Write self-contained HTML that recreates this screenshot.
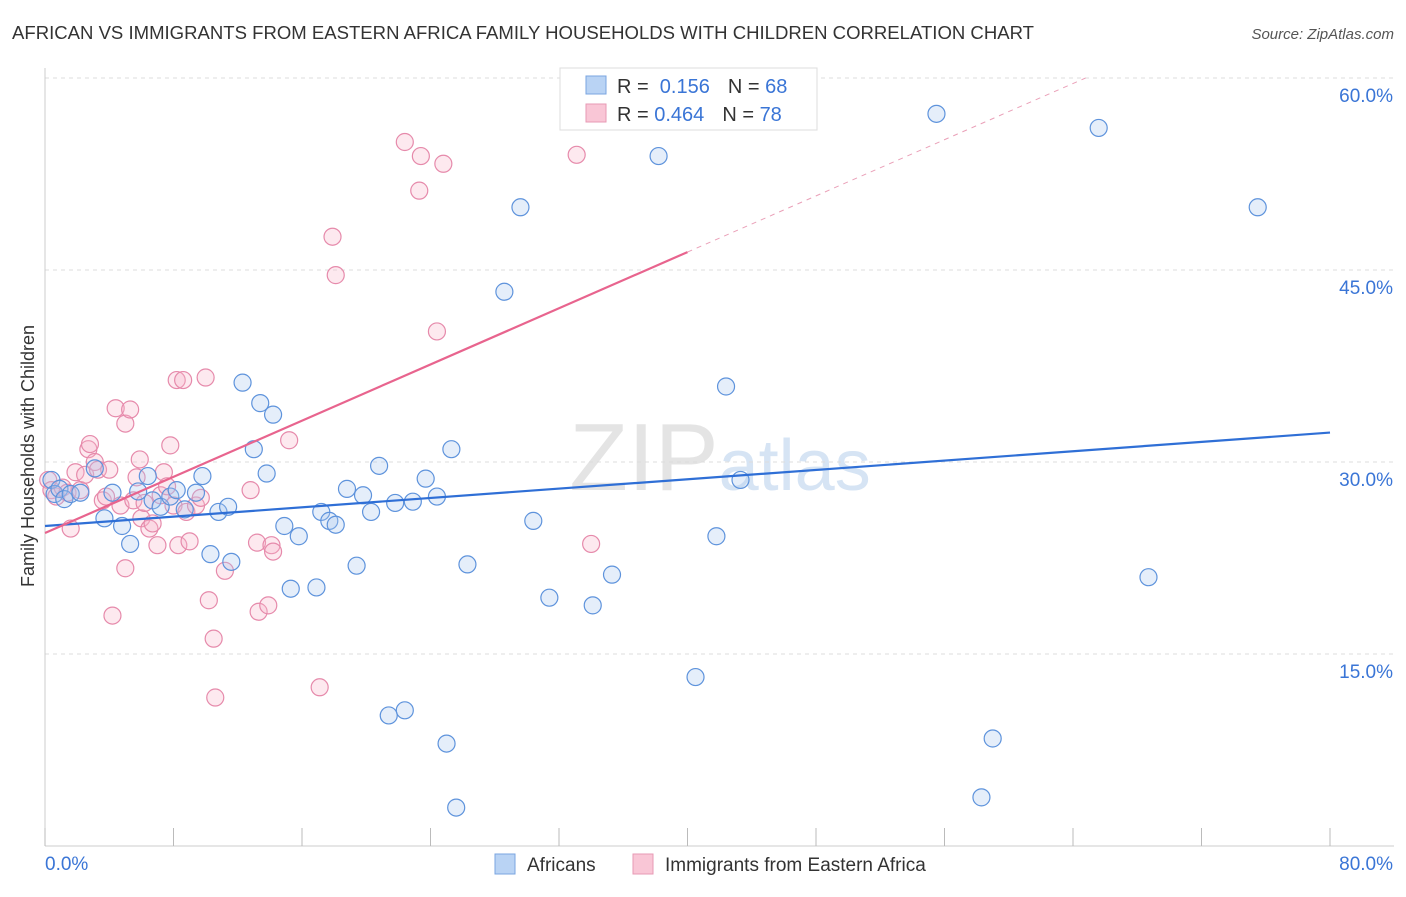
<!DOCTYPE html>
<html><head><meta charset="utf-8">
<style>
body{margin:0;background:#fff;font-family:"Liberation Sans",sans-serif;}
svg text{font-family:"Liberation Sans",sans-serif;}
</style></head>
<body>
<svg id="chart" width="1406" height="892" xmlns="http://www.w3.org/2000/svg">
<text x="12" y="39" font-size="18" fill="#333" textLength="1022" lengthAdjust="spacingAndGlyphs">AFRICAN VS IMMIGRANTS FROM EASTERN AFRICA FAMILY HOUSEHOLDS WITH CHILDREN CORRELATION CHART</text>
<text x="1394" y="39" font-size="15" fill="#555" text-anchor="end" font-style="italic">Source: ZipAtlas.com</text>
<text x="720" y="490" font-size="96" fill="#e4e4e4" text-anchor="middle" font-family="Liberation Serif">ZIP<tspan fill="#d6e4f4" font-family="Liberation Sans" font-size="72">atlas</tspan></text>
<g id="grid"></g>
<g id="axes"></g>
<g id="marks"></g>
<text transform="translate(34,456) rotate(-90)" font-size="18" fill="#333" text-anchor="middle">Family Households with Children</text>
<g>
<rect x="560" y="68" width="257" height="62" fill="#fff" stroke="#ddd"/>
<rect x="586" y="76" width="20" height="18" fill="#b9d3f4" stroke="#7aa5e0"/>
<rect x="586" y="104" width="20" height="18" fill="#f9c6d6" stroke="#e79ab4"/>
<text x="617" y="93" font-size="20" fill="#333">R = <tspan fill="#3a75d6">&#160;0.156</tspan><tspan dx="18">N = </tspan><tspan fill="#3a75d6">68</tspan></text>
<text x="617" y="121" font-size="20" fill="#333">R = <tspan fill="#3a75d6">0.464</tspan><tspan dx="18">N = </tspan><tspan fill="#3a75d6">78</tspan></text>
</g>
<g>
<rect x="495" y="854" width="20" height="20" fill="#b9d3f4" stroke="#7aa5e0"/>
<text x="527" y="871" font-size="19" fill="#333">Africans</text>
<rect x="633" y="854" width="20" height="20" fill="#f9c6d6" stroke="#e79ab4"/>
<text x="665" y="871" font-size="19" fill="#333">Immigrants from Eastern Africa</text>
</g>
</svg>
<script>
const xTicks=[0,8,16,24,32,40,48,56,64,72,80];
const yTicks=[15,30,45,60];
const blueX=[0.4,0.6,0.9,1.2,1.6,2.2,3.1,3.7,4.2,4.8,5.3,5.8,6.4,6.7,7.2,7.8,8.2,8.7,9.4,9.8,10.3,10.8,11.4,11.6,12.3,13.0,13.4,13.8,14.2,14.9,15.3,15.8,16.9,17.2,17.7,18.1,18.8,19.4,19.8,20.3,20.8,21.4,21.8,22.4,22.9,23.7,24.4,25.0,25.3,25.6,26.3,28.6,29.6,30.4,31.4,34.1,35.3,38.2,40.5,41.8,42.4,43.3,55.5,58.3,59.0,65.6,68.7,75.5];
const blueY=[28.6,27.5,27.9,27.1,27.5,27.6,29.5,25.6,27.6,25.0,23.6,27.7,28.9,27.0,26.5,27.3,27.8,26.3,27.6,28.9,22.8,26.1,26.5,22.2,36.2,31.0,34.6,29.1,33.7,25.0,20.1,24.2,20.2,26.1,25.4,25.1,27.9,21.9,27.4,26.1,29.7,10.2,26.8,10.6,26.9,28.7,27.3,8.0,31.0,3.0,22.0,43.3,49.9,25.4,19.4,18.8,21.2,53.9,13.2,24.2,35.9,28.6,57.2,3.8,8.4,56.1,21.0,49.9];
const pinkX=[0.2,0.4,0.7,1.1,1.4,1.6,1.9,2.2,2.5,2.7,2.8,3.1,3.3,3.6,3.8,4.0,4.2,4.4,4.7,5.0,5.0,5.3,5.5,5.7,5.9,6.0,6.2,6.5,6.7,7.0,7.2,7.4,7.6,7.8,8.0,8.2,8.3,8.6,8.8,9.0,9.4,9.7,10.0,10.2,10.5,10.6,11.2,12.8,13.2,13.3,13.9,14.1,14.2,15.2,17.1,17.9,18.1,22.4,23.3,23.4,24.4,24.8,33.1,34.0];
const pinkY=[28.6,27.8,27.3,28.0,27.6,24.8,29.2,27.8,29.0,31.0,31.4,30.0,29.4,27.0,27.3,29.4,18.0,34.2,26.6,21.7,33.0,34.1,27.0,28.8,30.2,25.6,26.8,24.8,25.2,23.5,27.4,29.2,28.1,31.3,26.6,36.4,23.5,36.4,26.1,23.8,26.6,27.2,36.6,19.2,16.2,11.6,21.5,27.8,23.7,18.3,18.8,23.5,23.0,31.7,12.4,47.6,44.6,55.0,51.2,53.9,40.2,53.3,54.0,23.6];
const blueLine=[25.0,32.3];
const pinkLine=[24.45,46.4];
const L=45,R=1330,B=846;
const xs=v=>L+(R-L)*v/80;
const ys=v=>B-v*12.8;
const NS="http://www.w3.org/2000/svg";
function mk(tag,attrs,parent){const e=document.createElementNS(NS,tag);for(const k in attrs)e.setAttribute(k,attrs[k]);parent.appendChild(e);return e;}
const grid=document.getElementById('grid'),axes=document.getElementById('axes'),marks=document.getElementById('marks');
yTicks.forEach(t=>{
 const l=mk('line',{x1:L,x2:1394,y1:ys(t),y2:ys(t),stroke:'#ddd','stroke-dasharray':'4,4'},grid);
 
 
 const tx=mk('text',{x:1393,y:ys(t)+24,'font-size':19,fill:'#3a75d6','text-anchor':'end'},axes);
 tx.textContent=t.toFixed(1)+'%';
 
 
});
mk('line',{x1:L,x2:L,y1:68,y2:B,stroke:'#ccc'},axes);
mk('line',{x1:L,x2:1394,y1:B,y2:B,stroke:'#ccc'},axes);
xTicks.forEach(t=>{
 const l=mk('line',{x1:xs(t),x2:xs(t),y1:B-18,y2:B,stroke:'#bbb'},axes);
 
 
});
[[0,'0.0%','start',45],[80,'80.0%','end',1393]].forEach(a=>{
 const tx=mk('text',{x:a[3],y:870,'font-size':19,fill:'#3a75d6','text-anchor':a[2]},axes);
 tx.textContent=a[1];
 
 
});
function pts(X,Y,fill,stroke,name){
 X.forEach((x,i)=>{
  const c=mk('circle',{cx:xs(x),cy:ys(Y[i]),r:8.5,fill:fill,'fill-opacity':0.3,stroke:stroke,'stroke-width':1.2},marks);
  
  
 });
}
pts(pinkX,pinkY,'#f7b6ca','#e68aab','pink-point');
pts(blueX,blueY,'#a9c8f0','#5e93dc','blue-point');
const bl=mk('line',{x1:xs(0),y1:ys(blueLine[0]),x2:xs(80),y2:ys(blueLine[1]),stroke:'#2f6fd6','stroke-width':2.2},marks);


const slope=(pinkLine[1]-pinkLine[0])/40;
const pl=mk('line',{x1:xs(0),y1:ys(pinkLine[0]),x2:xs(40),y2:ys(pinkLine[1]),stroke:'#e8648e','stroke-width':2.2},marks);


const xe=(60-pinkLine[0])/slope;
const pd=mk('line',{x1:xs(40),y1:ys(pinkLine[1]),x2:xs(xe),y2:ys(60),stroke:'#eaa0b8','stroke-width':1,'stroke-dasharray':'5,5'},marks);


</script>
</body></html>
